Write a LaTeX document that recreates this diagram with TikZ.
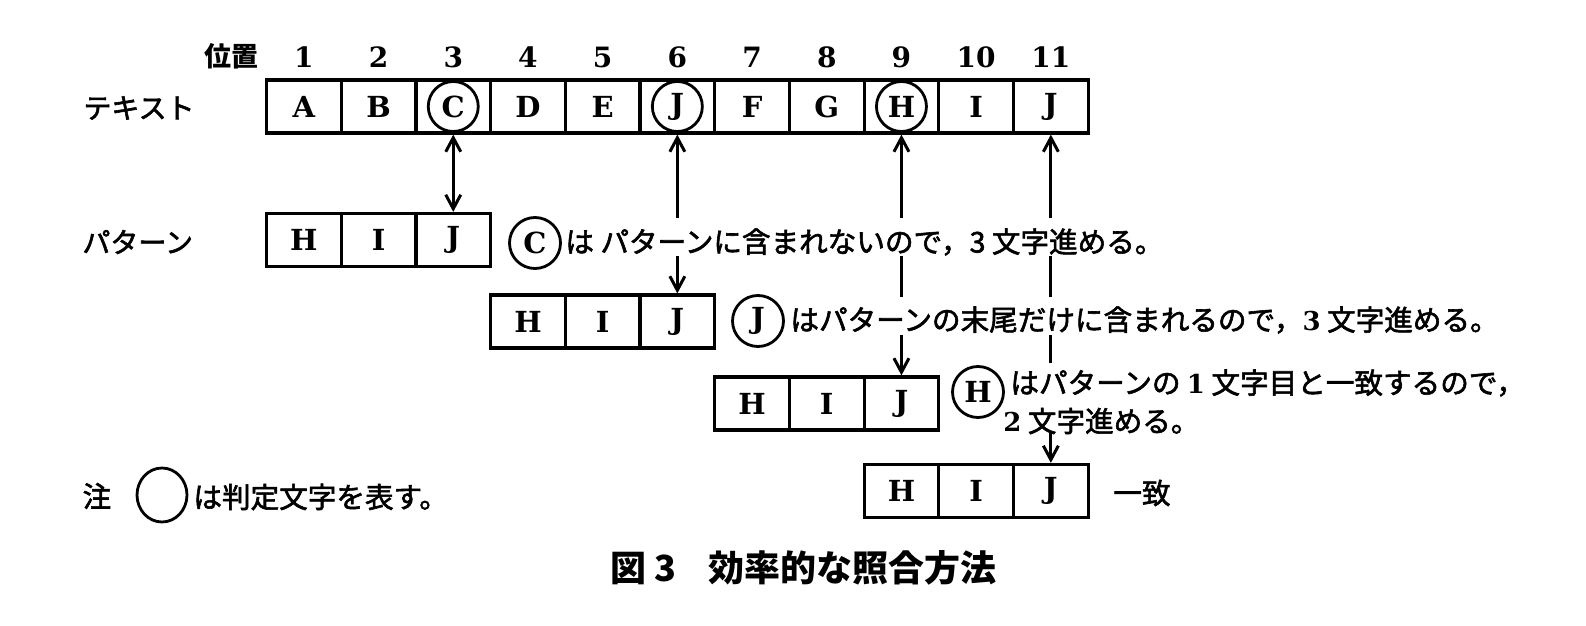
\documentclass[tikz,border=0pt]{standalone}
\usepackage{fontspec}
\newfontfamily\jp{Noto Sans CJK JP}[FakeBold=2]
\newfontfamily\jpb{Noto Sans CJK JP}
\newfontfamily\cellf{DejaVu Serif}
\usetikzlibrary{arrows.meta,shapes.geometric}
\begin{document}
\begin{tikzpicture}[x=0.5pt,y=-0.5pt,
  cell/.style={draw,line width=1.6pt,minimum width=37.35pt,minimum height=26.5pt,inner sep=0pt,
    font=\cellf\bfseries\fontsize{14.5}{14.5}\selectfont},
  num/.style={inner sep=0pt,font=\cellf\bfseries\fontsize{14}{14}\selectfont},
  ring/.style={circle,draw,line width=1.4pt,minimum size=25pt,inner sep=0pt},
  ringtxt/.style={ring,minimum size=25.5pt,font=\cellf\bfseries\fontsize{14.5}{14.5}\selectfont},
  jtxt/.style={inner sep=0pt,anchor=west,font=\jp\fontsize{14.3}{17}\selectfont},
  jlab/.style={inner sep=0pt,anchor=west,font=\jp\fontsize{14}{17}\selectfont},
  conn/.style={line width=1.5pt},
  arr/.style={-{Straight Barb[length=7pt,width=7.5pt,line width=1.5pt]}},
  rarr/.style={{Straight Barb[length=7pt,width=7.5pt,line width=1.5pt]}-},
  darr/.style={{Straight Barb[length=7pt,width=7.5pt,line width=1.5pt]}-{Straight Barb[length=7pt,width=7.5pt,line width=1.5pt]}}
]
\fill[white] (0,0) rectangle (1586,626);
\useasboundingbox (0,0) rectangle (1586,626);

% text row
\foreach \l [count=\i] in {A,B,C,D,E,J,F,G,H,I,J}
  \node[cell] (t\i) at ({303.85+(\i-1)*74.7},106.5) {\l};
\foreach \i in {1,...,11}
  \node[num] (n\i) at ({303.85+(\i-1)*74.7},57) {\i};
\node[ring] (r3) at (t3) {};
\node[ring] (r6) at (t6) {};
\node[ring] (r9) at (t9) {};

% pattern rows
\foreach \row/\start/\y in {1/1/240,2/4/321.5,3/7/403.5,4/9/491}
  \foreach \l [count=\j] in {H,I,J}
    \node[cell] (p\row\j) at ({303.85+(\start+\j-2)*74.7},\y) {\l};

% labels
\node[jlab,anchor=center,font=\jpb\bfseries\fontsize{13.5}{16}\selectfont] (lpos) at (231,56) {位置};
\node[jlab] (ltext) at (83,108) {テキスト};
\node[jlab] (lpat) at (82,242) {パターン};

% explanations
\node[ringtxt] (k1) at (535,243) {C};
\node[jtxt] (s1) at (565,242) {は パターンに含まれないので，3 文字進める。};
\node[ringtxt] (k2) at (758,321) {J};
\node[jtxt] (s2) at (790,320) {はパターンの末尾だけに含まれるので，{\cellf\bfseries\fontsize{13}{13}\selectfont 3} 文字進める。};
\node[ringtxt] (k3) at (978,392) {H};
\node[jtxt] (s3a) at (1010,383) {はパターンの {\cellf\bfseries\fontsize{13}{13}\selectfont 1} 文字目と一致するので，};
\node[jtxt] (s3b) at (1003,421) {{\cellf\bfseries\fontsize{13}{13}\selectfont 2} 文字進める。};
\node[jtxt] (match) at (1113,493) {一致};

% note and caption
\node[jtxt,anchor=center] (note) at (97,496) {注};
\node[ellipse,draw,line width=1.4pt,minimum width=25pt,minimum height=27pt,inner sep=0pt] (noter) at (162,495) {};
\node[jtxt] (notet) at (193,497) {は判定文字を表す。};
\node[jtxt,font=\jpb\bfseries\fontsize{18}{20}\selectfont] (cap) at (610,568) {図 3\hspace{0.9em}効率的な照合方法};

% break levels
\coordinate (ya) at (0,218);
\coordinate (yb) at (0,256);
\coordinate (yc) at (0,297);
\coordinate (yd) at (0,335);
\coordinate (ye) at (0,363);
\coordinate (yf) at (0,433);

% connectors
\draw[conn,darr] (t3.south) -- (p13.north);
\draw[conn,rarr] (t6.south) -- (t6.south |- ya);
\draw[conn,arr] (t6.south |- yb) -- (p23.north);
\draw[conn,rarr] (t9.south) -- (t9.south |- ya);
\draw[conn] (t9.south |- yb) -- (t9.south |- yc);
\draw[conn,arr] (t9.south |- yd) -- (p33.north);
\draw[conn,rarr] (t11.south) -- (t11.south |- ya);
\draw[conn] (t11.south |- yb) -- (t11.south |- yc);
\draw[conn] (t11.south |- yd) -- (t11.south |- ye);
\draw[conn,arr] (t11.south |- yf) -- (p43.north);
\end{tikzpicture}
\end{document}
